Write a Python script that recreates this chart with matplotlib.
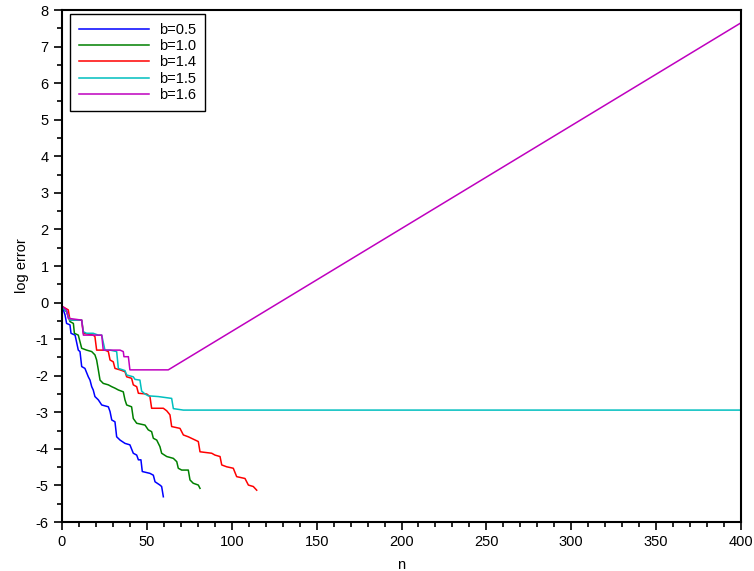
import matplotlib
matplotlib.use('Agg')
import matplotlib.pyplot as plt
from matplotlib.ticker import MultipleLocator

plt.rcParams['font.family'] = ['Liberation Sans', 'DejaVu Sans']
plt.rcParams['axes.unicode_minus'] = False

# vertices (iteration n, log error)
n_b05 = [0, 0.8, 1.8, 2.7, 4.7, 5.3, 7.7, 9.6, 10.6, 11.6, 13.5, 15.5, 16.5, 17.5,
         18.4, 19.4, 21.4, 23.4, 27.3, 28.3, 29.3, 31.2, 32.2, 34.2, 37.1, 40, 42,
         44, 45, 46.5, 47.3, 51.8, 53.8, 54.8, 57.7, 58.7, 59.7]
e_b05 = [-0.12, -0.2, -0.34, -0.57, -0.61, -0.84, -0.89, -1.30, -1.34, -1.75, -1.80,
         -2.03, -2.12, -2.30, -2.39, -2.57, -2.66, -2.80, -2.85, -2.98, -3.21, -3.26,
         -3.67, -3.76, -3.85, -3.89, -4.12, -4.17, -4.30, -4.30, -4.62, -4.67, -4.72,
         -4.90, -4.99, -5.03, -5.31]

n_b10 = [0, 2.7, 4.7, 6.7, 7.3, 9.6, 11.6, 14.5, 17.5, 19.4, 20.4, 21.4, 22.4, 24.3,
         27.3, 29.3, 31.2, 33.2, 36.1, 37.1, 38.1, 41, 42, 44, 48.9, 50.8, 52.8, 53.8,
         55.8, 57.7, 58.7, 61.7, 65.6, 67.6, 68.5, 70.5, 74.4, 75.4, 77.3, 80.3, 81.3]
e_b10 = [-0.12, -0.25, -0.52, -0.57, -0.84, -0.89, -1.25, -1.30, -1.34, -1.43, -1.57,
         -1.84, -2.12, -2.21, -2.25, -2.30, -2.34, -2.39, -2.44, -2.66, -2.80, -2.85,
         -3.17, -3.30, -3.35, -3.48, -3.53, -3.71, -3.76, -3.94, -4.12, -4.21, -4.26,
         -4.35, -4.53, -4.58, -4.58, -4.85, -4.94, -4.99, -5.08]

n_b14 = [0, 3.7, 4.7, 11.6, 12.6, 18.4, 19.4, 20.4, 25.3, 27.3, 28.3, 30.2, 31.2, 34.2,
         37.1, 38.1, 41, 42, 44, 45, 49.9, 51.8, 52.8, 59.7, 61.7, 63.6, 64.6, 69.5,
         71.5, 74.4, 80.3, 81.3, 88.2, 90.1, 93.1, 94.1, 97, 100.9, 102.9, 107.8,
         109.8, 112.7, 114.7]
e_b14 = [-0.10, -0.20, -0.48, -0.48, -0.84, -0.89, -0.93, -1.30, -1.30, -1.34, -1.57,
         -1.62, -1.80, -1.84, -1.89, -2.03, -2.07, -2.25, -2.30, -2.48, -2.50, -2.57,
         -2.89, -2.89, -2.96, -3.07, -3.39, -3.44, -3.62, -3.67, -3.80, -4.08, -4.12,
         -4.17, -4.21, -4.44, -4.49, -4.53, -4.76, -4.81, -4.99, -5.03, -5.13]

n_b15 = [0, 2.7, 4.7, 11.6, 12.6, 14.5, 18.4, 21.4, 23.4, 25.3, 28.3, 32.2, 33.2, 37.1,
         38.1, 42, 43, 45.9, 46.9, 48.9, 50.8, 56.7, 64.6, 65.6, 71.5, 400]
e_b15 = [-0.12, -0.25, -0.48, -0.48, -0.80, -0.84, -0.84, -0.89, -0.89, -1.30, -1.30,
         -1.34, -1.80, -1.86, -1.98, -2.03, -2.10, -2.12, -2.42, -2.50, -2.55, -2.57,
         -2.62, -2.90, -2.94, -2.94]

n_b16 = [0, 2.7, 3.7, 11.6, 12.6, 23.4, 24.3, 34.2, 36.1, 36.5, 39.1, 40, 62.6, 400]
e_b16 = [-0.10, -0.20, -0.43, -0.48, -0.89, -0.89, -1.30, -1.30, -1.34, -1.48, -1.48,
         -1.84, -1.84, 7.65]

labels = ['b=0.5', 'b=1.0', 'b=1.4', 'b=1.5', 'b=1.6']
colors = ['#0000ff', '#008000', '#ff0000', '#00bfbf', '#bf00bf']

fig = plt.figure(figsize=(7.54, 5.71), dpi=100)
ax = fig.add_axes([62 / 754, 1 - 522 / 571, 679 / 754, 512 / 571])

series = [(n_b05, e_b05), (n_b10, e_b10), (n_b14, e_b14), (n_b15, e_b15), (n_b16, e_b16)]
for (n, e), lab, c in zip(series, labels, colors):
    ax.plot(n, e, color=c, lw=1.1, label=lab)

ax.set_xlim(0, 400)
ax.set_ylim(-6, 8)
ax.xaxis.set_major_locator(MultipleLocator(50))
ax.xaxis.set_minor_locator(MultipleLocator(10))
ax.yaxis.set_major_locator(MultipleLocator(1))
ax.yaxis.set_minor_locator(MultipleLocator(0.5))
ax.tick_params(which='both', direction='out', top=False, right=False, labelsize=10.5,
               width=1.2)
ax.tick_params(which='major', length=6)
ax.tick_params(which='minor', length=3.5)
for sp in ax.spines.values():
    sp.set_linewidth(1.5)

ax.set_xlabel('n', fontsize=10.5, labelpad=6)
ax.set_ylabel('log error', fontsize=10.5, labelpad=5)

leg = ax.legend(loc='upper left', bbox_to_anchor=(8 / 679, 1 - 4 / 512), borderaxespad=0,
                fontsize=10.5, handlelength=4.8, labelspacing=0.16, fancybox=False,
                framealpha=1, edgecolor='black', borderpad=0.6, handletextpad=0.7)
leg.get_frame().set_linewidth(1.0)

fig.savefig('out.png', dpi=100)
